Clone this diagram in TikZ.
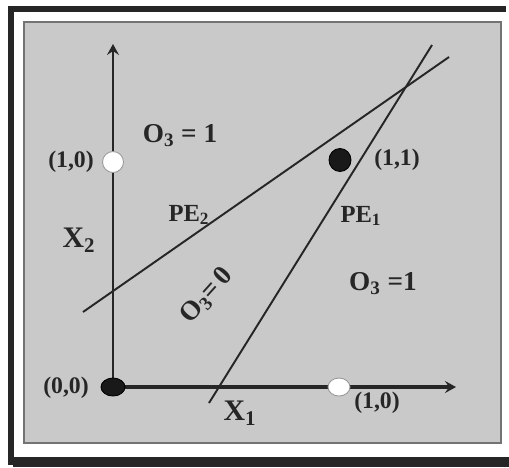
\documentclass[tikz,border=0pt]{standalone}
\usepackage{fontspec}
\setmainfont{Liberation Serif}
\usetikzlibrary{arrows.meta,shapes.geometric}
\begin{document}
\begin{tikzpicture}[x=0.02cm,y=-0.02cm]

\tikzset{blackpt/.style={ellipse, fill=black!90!white, draw=black, line width=0.5pt, inner sep=0pt}}
\tikzset{whitept/.style={ellipse, fill=white, draw=black!40!white, line width=0.5pt, inner sep=0pt}}
\tikzset{lbl/.style={font=\bfseries\fontsize{13.5}{15}\selectfont, text=black!85!white, inner sep=0pt}}
\tikzset{pelbl/.style={font=\bfseries\fontsize{14}{16}\selectfont, text=black!85!white, inner sep=0pt}}
\tikzset{biglbl/.style={font=\bfseries\fontsize{15.5}{17}\selectfont, text=black!85!white, inner sep=0pt}}
\tikzset{xlbl/.style={font=\bfseries\fontsize{17}{19}\selectfont, text=black!85!white, inner sep=0pt}}
\tikzset{axis/.style={draw=black!85!white, -{Stealth[length=0.22cm, width=0.24cm, inset=0.08cm]}}}
\tikzset{sep/.style={draw=black!85!white, line width=1.1pt}}

\useasboundingbox (0,0) rectangle (509,467);
\fill[black!85!white] (8,6) rectangle (506,12);
\fill[black!85!white] (8,6) rectangle (14,465);
\fill[black!85!white] (13,457) rectangle (509,467);
\filldraw[fill=black!21!white, draw=black!55!white, line width=0.6pt] (24,22) rectangle (501,443);

\coordinate (origin) at (113,387);
\coordinate (x1end) at (456,387);
\coordinate (x2end) at (113,44);
\coordinate (pe1a) at (209,403);
\coordinate (pe1b) at (432,45);
\coordinate (pe2a) at (83,312);
\coordinate (pe2b) at (449,57);

\draw[axis, line width=1.7pt] (origin) -- (x2end);
\draw[axis, line width=2.3pt] (origin) -- (x1end);
\draw[sep] (pe1a) -- (pe1b);
\draw[sep] (pe2a) -- (pe2b);

\node[blackpt, minimum width=0.48cm, minimum height=0.36cm] (p00) at (origin) {};
\node[whitept, minimum width=0.42cm, minimum height=0.42cm] (p01) at (113,162) {};
\node[whitept, minimum width=0.44cm, minimum height=0.36cm] (p10) at (339,387) {};
\node[blackpt, minimum width=0.44cm, minimum height=0.46cm] (p11) at (340,160) {};

\node[lbl] (l00) at (66,388) {(0,0)};
\node[lbl] (l01) at (71,162) {(1,0)};
\node[lbl] (l10) at (377,403) {(1,0)};
\node[lbl] (l11) at (397,160) {(1,1)};
\node[pelbl] (pe2) at (189,215) {PE\textsubscript{2}};
\node[pelbl] (pe1) at (361,216) {PE\textsubscript{1}};
\node[xlbl] (x2) at (79,240) {X\textsubscript{2}};
\node[xlbl] (x1) at (240,413) {X\textsubscript{1}};
\node[biglbl] (o3top) at (180,136) {O\textsubscript{3} = 1};
\node[biglbl] (o3right) at (383,284) {O\textsubscript{3} =1};
\node[biglbl, rotate=48] (o3mid) at (207,296) {O\textsubscript{3}=\,0};

\end{tikzpicture}
\end{document}
